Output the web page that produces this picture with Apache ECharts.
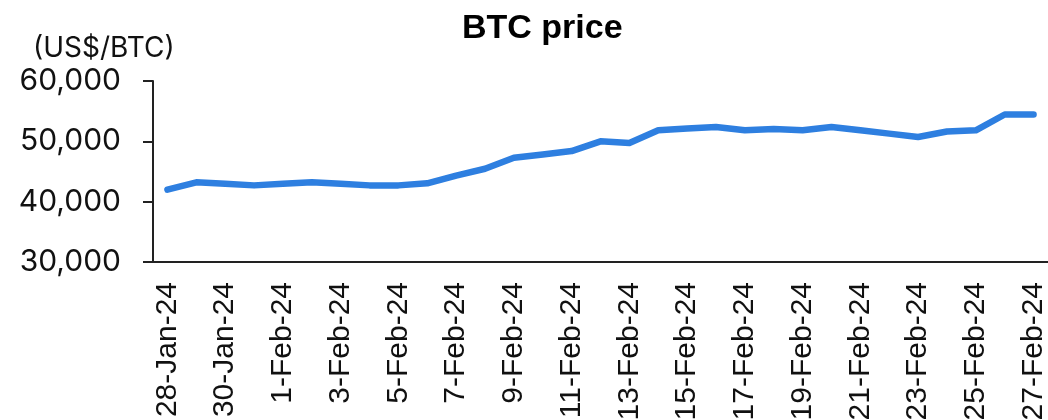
<!DOCTYPE html>
<html>
<head>
<meta charset="utf-8">
<script src="https://cdn.jsdelivr.net/npm/echarts@6/dist/echarts.min.js"></script>
<style>
    html, body {margin: 0; padding: 0; background: #fff;}
    #main {width: 1048px; height: 420px;}
</style>
</head>
<body>
<div id="main"></div>
<script>
    var dates = [
        '28-Jan-24', '29-Jan-24', '30-Jan-24', '31-Jan-24',
        '1-Feb-24', '2-Feb-24', '3-Feb-24', '4-Feb-24', '5-Feb-24', '6-Feb-24', '7-Feb-24',
        '8-Feb-24', '9-Feb-24', '10-Feb-24', '11-Feb-24', '12-Feb-24', '13-Feb-24', '14-Feb-24',
        '15-Feb-24', '16-Feb-24', '17-Feb-24', '18-Feb-24', '19-Feb-24', '20-Feb-24', '21-Feb-24',
        '22-Feb-24', '23-Feb-24', '24-Feb-24', '25-Feb-24', '26-Feb-24', '27-Feb-24'
    ];
    var prices = [
        42000, 43200, 42950, 42700,
        42950, 43200, 42950, 42700, 42700, 43050, 44330,
        45450, 47280, 47830, 48390, 50000, 49720, 51830,
        52110, 52380, 51830, 52050, 51830, 52380, 51830,
        51280, 50720, 51620, 51830, 54450, 54450
    ];
    var yTicks = {min: 30000, max: 60000, step: 10000};

    var chart = echarts.init(document.getElementById('main'));
    chart.setOption({
        animation: false,
        title: {
            text: 'BTC price', left: 457, top: 7,
            textStyle: {fontFamily: 'Liberation Sans', fontWeight: 'bold', fontSize: 34, color: '#000'}
        },
        graphic: [{
            type: 'text', left: 33, top: 35,
            style: {text: '(US$/BTC)', fontFamily: 'Inter', fontSize: 28, fill: '#111'}
        }],
        grid: {left: 153, right: 0, top: 81, bottom: 158, containLabel: false, outerBoundsMode: 'none'},
        xAxis: {
            type: 'category',
            data: dates,
            boundaryGap: true,
            axisLine: {lineStyle: {color: '#222', width: 2}},
            axisTick: {interval: 1, length: 11, lineStyle: {color: '#222', width: 2}},
            axisLabel: {
                interval: 1, rotate: 90, margin: 20,
                fontFamily: 'Liberation Sans', fontSize: 30, color: '#111'
            }
        },
        yAxis: {
            type: 'value',
            min: yTicks.min, max: yTicks.max, interval: yTicks.step,
            splitLine: {show: false},
            axisLine: {show: true, lineStyle: {color: '#222', width: 2}},
            axisTick: {show: true, length: 10, lineStyle: {color: '#222', width: 2}},
            axisLabel: {
                margin: 32, fontFamily: 'Inter', fontSize: 30, color: '#111',
                formatter: function (v) { return v.toLocaleString('en-US'); }
            }
        },
        series: [{
            type: 'line',
            data: prices,
            showSymbol: false,
            lineStyle: {color: '#2e7fe0', width: 6.5, cap: 'round', join: 'round'}
        }]
    });
</script>
</body>
</html>
